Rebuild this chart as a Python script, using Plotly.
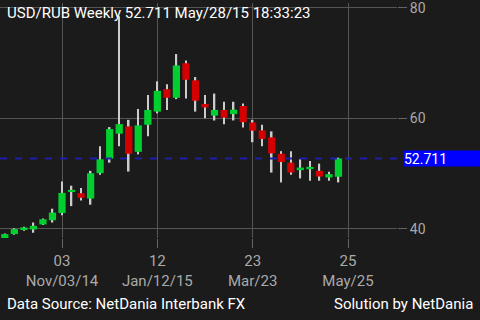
import plotly.graph_objects as go

# ---- data (weekly USD/RUB candles) ----
week_dates = ["2014-09-22", "2014-09-29", "2014-10-06", "2014-10-13", "2014-10-20", "2014-10-27",
              "2014-11-03", "2014-11-10", "2014-11-17", "2014-11-24", "2014-12-01", "2014-12-08",
              "2014-12-15", "2014-12-22", "2014-12-29", "2015-01-05", "2015-01-12", "2015-01-19",
              "2015-01-26", "2015-02-02", "2015-02-09", "2015-02-16", "2015-02-23", "2015-03-02",
              "2015-03-09", "2015-03-16", "2015-03-23", "2015-03-30", "2015-04-06", "2015-04-13",
              "2015-04-20", "2015-04-27", "2015-05-04", "2015-05-11", "2015-05-18", "2015-05-25"]
opens = [37.98, 39.05, 39.90, 39.89, 40.79, 41.55, 42.86, 46.70, 46.43, 45.48, 50.07, 52.68,
         57.21, 58.52, 53.93, 58.82, 61.20, 65.25, 63.70, 69.95, 66.86, 62.57, 60.48, 61.50,
         60.75, 62.21, 59.23, 57.80, 56.55, 53.57, 51.96, 50.61, 50.79, 50.48, 49.29, 49.41]
closes = [39.05, 39.95, 40.25, 40.54, 41.73, 42.93, 46.50, 47.05, 45.61, 50.04, 52.57, 58.04,
          58.93, 53.57, 58.70, 61.50, 64.95, 63.70, 69.54, 66.96, 63.16, 61.96, 61.50, 60.12,
          61.55, 59.29, 57.75, 56.25, 53.64, 52.09, 50.18, 51.07, 51.20, 49.46, 49.89, 52.711]
highs = [39.15, 40.10, 40.36, 41.14, 41.85, 43.64, 48.57, 47.80, 47.39, 50.48, 54.95, 58.39,
         78.46, 59.71, 61.68, 64.18, 66.68, 66.14, 71.61, 70.43, 67.45, 64.18, 64.46, 62.98,
         62.98, 62.68, 59.71, 58.82, 57.62, 54.05, 54.05, 52.57, 52.27, 51.79, 50.30, 52.86]
lows = [37.90, 38.95, 39.64, 39.29, 40.70, 41.14, 42.45, 44.11, 45.12, 44.36, 49.77, 51.96,
        54.95, 50.36, 53.46, 56.73, 60.89, 61.50, 63.46, 63.57, 61.20, 60.00, 59.59, 58.93,
        59.60, 58.34, 55.66, 54.95, 50.18, 48.39, 49.77, 49.11, 48.70, 48.70, 48.70, 48.39]

tick_positions = [6, 16, 26, 36]
tick_days = ["03", "12", "23", "25"]
tick_dates = ["Nov/03/14", "Jan/12/15", "Mar/23", "May/25"]
y_ticks = [40, 60, 80]
last_price = 52.711
title_text = "USD/RUB Weekly 52.711 May/28/15 18:33:23"
footer_left = "Data Source: NetDania Interbank FX"
footer_right = "Solution by NetDania"

# ---- styles ----
BG = "#1b1b1b"
GRID = "#555555"
GREEN = "#00cf2f"
RED = "#d20000"
WICK = "#cccccc"
LABEL = "#aaaaaa"
FONT = "Roboto"
X_RANGE = [-0.504, 41.14]

x = list(range(len(week_dates)))
wick_len = [h - l for h, l in zip(highs, lows)]
body_base = [min(o, c) for o, c in zip(opens, closes)]
body_len = [abs(c - o) for o, c in zip(opens, closes)]
body_col = [GREEN if c >= o else RED for o, c in zip(opens, closes)]

fig = go.Figure()
fig.add_trace(go.Bar(x=x, y=wick_len, base=lows, width=0.16,
                     marker=dict(color=WICK, line=dict(width=0)), hoverinfo="skip"))
fig.add_trace(go.Bar(x=x, y=body_len, base=body_base, width=0.76,
                     marker=dict(color=body_col, line=dict(width=0)),
                     customdata=week_dates, hovertemplate="%{customdata}<extra></extra>"))
# invisible trace to activate the second (date-label) x axis
fig.add_trace(go.Scatter(x=[tick_positions[0]], y=[last_price], xaxis="x2", mode="markers",
                         marker=dict(opacity=0), hoverinfo="skip"))

fig.add_shape(type="line", xref="paper", yref="y", x0=0, x1=1.0144,
              y0=last_price, y1=last_price,
              line=dict(color="#1f1fa8", width=2, dash="7px,8px"))

fig.add_annotation(xref="paper", yref="y", x=1.0144, y=last_price, xanchor="left",
                   yanchor="middle", text=f"{last_price:.3f}", showarrow=False,
                   bgcolor="#0000ff", width=75, height=15, align="left", borderpad=0,
                   font=dict(family=FONT, size=14, color="#ffffff"))

fig.add_annotation(xref="paper", yref="paper", x=0.0126, y=1, xanchor="left", yanchor="top",
                   yshift=1, text=title_text, showarrow=False,
                   font=dict(family=FONT, size=15, color="#ffffff"))
fig.add_annotation(xref="paper", yref="paper", x=0.0126, y=-0.2794, xanchor="left",
                   yanchor="middle", text=footer_left, showarrow=False,
                   font=dict(family=FONT, size=15, color="#ffffff"))
fig.add_annotation(xref="paper", yref="paper", x=1.1965, y=-0.2794, xanchor="right",
                   yanchor="middle", text=footer_right, showarrow=False,
                   font=dict(family=FONT, size=15, color="#ffffff"))

fig.update_layout(
    width=480, height=320, barmode="overlay", showlegend=False,
    paper_bgcolor=BG, plot_bgcolor=BG,
    margin=dict(l=0, r=83, t=0, b=82),
    xaxis=dict(range=X_RANGE, tickvals=tick_positions, ticktext=tick_days,
               showgrid=True, gridcolor=GRID, gridwidth=1, zeroline=False, showline=False,
               ticks="outside", ticklen=9, tickcolor="#666666", tickwidth=1,
               tickfont=dict(family=FONT, size=15, color=LABEL), fixedrange=True),
    xaxis2=dict(range=X_RANGE, tickvals=tick_positions, ticktext=tick_dates,
                overlaying="x", side="bottom", anchor="y",
                showgrid=False, zeroline=False, showline=False,
                ticks="outside", ticklen=9, tickcolor="rgba(0,0,0,0)",
                ticklabelstandoff=20,
                tickfont=dict(family=FONT, size=15, color=LABEL), fixedrange=True),
    yaxis=dict(range=[38.34, 80.84], side="right", tickvals=y_ticks,
               showgrid=True, gridcolor=GRID, gridwidth=1, zeroline=False, showline=False,
               ticks="outside", ticklen=9, tickcolor="#666666", tickwidth=1,
               ticklabeloverflow="allow",
               tickfont=dict(family=FONT, size=14, color=LABEL), fixedrange=True),
)

fig.write_html("out.html", config={"displayModeBar": False})
